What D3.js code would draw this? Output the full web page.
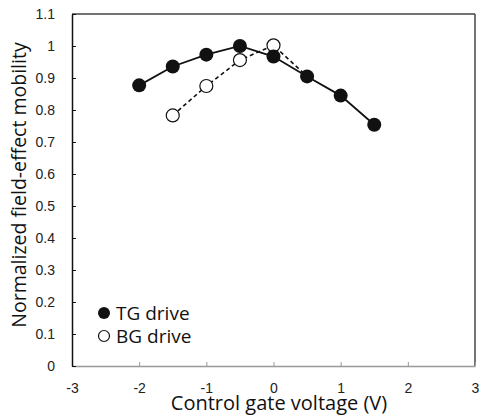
<!DOCTYPE html>
<html><head><meta charset="utf-8">
<script src="https://cdn.jsdelivr.net/npm/d3@7"></script>
<style>body{margin:0;background:#fff}</style>
</head><body><svg id="c" width="481" height="416"></svg>
<script>
const tgX = [-2, -1.5, -1, -0.5, 0, 0.5, 1, 1.5];
const tgY = [0.877, 0.936, 0.973, 1.0, 0.967, 0.905, 0.845, 0.754];
const bgX = [-1.5, -1, -0.5, 0, 0.5];
const bgY = [0.783, 0.875, 0.956, 1.002, 0.905];
const xTicks = [-3, -2, -1, 0, 1, 2, 3];
const yTicks = [0, 0.1, 0.2, 0.3, 0.4, 0.5, 0.6, 0.7, 0.8, 0.9, 1, 1.1];
const seriesNames = ["TG drive", "BG drive"];

const svg = d3.select("#c");
const L = 72, R = 475, T = 14, B = 366;
const x = d3.scaleLinear().domain([-3, 3]).range([L, R]);
const y = d3.scaleLinear().domain([0, 1.1]).range([B, T]);

// frame
svg.append("line").attr("x1", L).attr("x2", R).attr("y1", T).attr("y2", T).attr("stroke", "#444").attr("stroke-width", 1.5);
svg.append("line").attr("x1", R).attr("x2", R).attr("y1", T).attr("y2", B).attr("stroke", "#444").attr("stroke-width", 1.5);

const tickFont = "Liberation Sans, Arial, sans-serif";
// x axis
const xa = svg.append("g").attr("transform", `translate(0,${B})`)
  .call(d3.axisBottom(x).tickValues(xTicks).tickSizeInner(-4).tickSizeOuter(0).tickPadding(0).tickFormat(d => String(d)));
xa.select(".domain").attr("stroke", "#999").attr("stroke-width", 1.5);
xa.selectAll(".tick line").attr("stroke", "#999");
xa.selectAll(".tick text").attr("y", 26.5).attr("dy", 0).attr("font-family", tickFont).attr("font-size", 14).attr("fill", "#222");

// y axis
const ya = svg.append("g").attr("transform", `translate(${L},0)`)
  .call(d3.axisLeft(y).tickValues(yTicks).tickSizeInner(-4).tickSizeOuter(0).tickFormat(d => String(+d.toFixed(1))));
ya.select(".domain").attr("stroke", "#111").attr("stroke-width", 1.5);
ya.selectAll(".tick line").attr("stroke", "#111");
ya.selectAll(".tick text").attr("x", -17).attr("font-family", tickFont).attr("font-size", 14).attr("fill", "#222");

const titleFont = "Open Sans, sans-serif";
svg.append("text").attr("x", 279).attr("y", 409.5).attr("text-anchor", "middle")
  .attr("font-family", titleFont).attr("font-size", 20).attr("fill", "#111").text("Control gate voltage (V)");
svg.append("text").attr("transform", `translate(26,${(T + B) / 2 - 5}) rotate(-90)`).attr("text-anchor", "middle")
  .attr("font-family", titleFont).attr("font-size", 19.5).attr("fill", "#111").text("Normalized field-effect mobility");

const tg = tgX.map((v, i) => [v, tgY[i]]);
const bg = bgX.map((v, i) => [v, bgY[i]]);
const line = d3.line().x(d => x(d[0])).y(d => y(d[1]));

svg.append("path").attr("d", line(bg)).attr("fill", "none").attr("stroke", "#111").attr("stroke-width", 1.6).attr("stroke-dasharray", "4,3");
svg.append("path").attr("d", line(tg)).attr("fill", "none").attr("stroke", "#111").attr("stroke-width", 1.8);
svg.selectAll(".bgp").data(bg.slice(0, 4)).enter().append("circle").attr("cx", d => x(d[0])).attr("cy", d => y(d[1])).attr("r", 6.5)
  .attr("fill", "#fff").attr("stroke", "#111").attr("stroke-width", 1.2);
svg.selectAll(".tgp").data(tg).enter().append("circle").attr("cx", d => x(d[0])).attr("cy", d => y(d[1])).attr("r", 7)
  .attr("fill", "#111");

// legend
const lg = svg.append("g");
lg.append("circle").attr("cx", 104).attr("cy", 313).attr("r", 6).attr("fill", "#111");
lg.append("circle").attr("cx", 104).attr("cy", 336).attr("r", 5.5).attr("fill", "#fff").attr("stroke", "#111").attr("stroke-width", 1.2);
lg.selectAll("text").data(seriesNames).enter().append("text").attr("x", 116).attr("y", (d, i) => 320 + i * 23)
  .attr("font-family", titleFont).attr("font-size", 19).attr("fill", "#111").text(d => d);
</script></body></html>
